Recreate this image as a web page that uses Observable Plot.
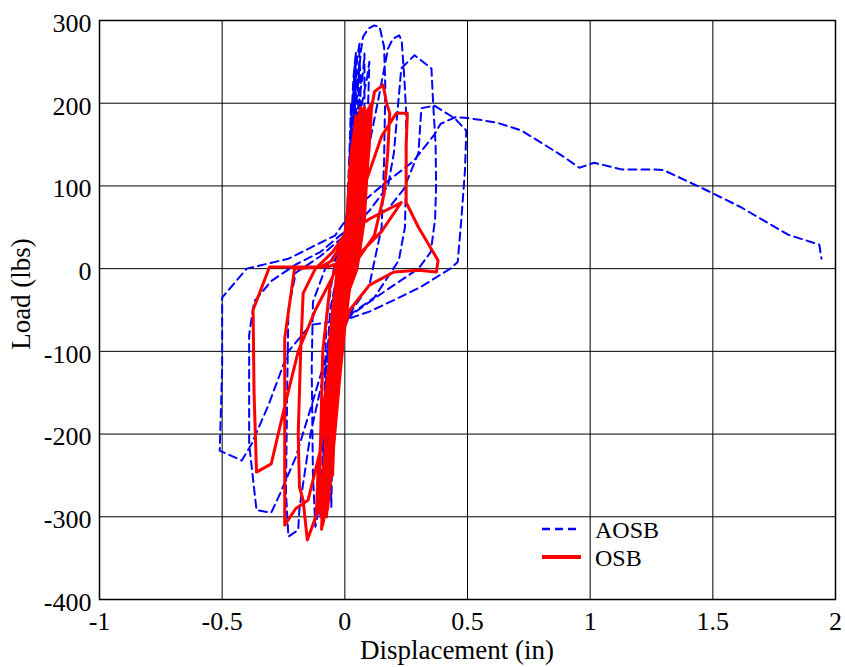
<!DOCTYPE html>
<html>
<head>
<meta charset="utf-8">
<script src="https://cdn.jsdelivr.net/npm/d3@7"></script>
<script src="https://cdn.jsdelivr.net/npm/@observablehq/plot@0.6"></script>
<style>
  html, body { margin: 0; padding: 0; background: #fff; }
  #chart { width: 845px; height: 667px; }
</style>
</head>
<body>
<div id="chart"></div>
<script>
// ---- Data (displacement in, load lbs) ----
const xTicks = [-1, -0.5, 0, 0.5, 1, 1.5, 2];
const yTicks = [-400, -300, -200, -100, 0, 100, 200, 300];
const seriesNames = ["AOSB", "OSB"];

// AOSB (blue dashed) hysteresis path, then monotonic tail
const aosbCurve = [
  [0,0],[0.02,150],[0.025,200],[0.02,120],[0.01,20],[-0.01,-40],[-0.04,-170],[-0.05,-215],[-0.045,-120],[-0.03,-20],[0,30],
  [0.02,120],[0.04,245],[0.035,160],[0.02,40],[0,-30],[-0.04,-150],[-0.07,-265],[-0.065,-160],[-0.05,-40],[-0.02,20],[0.01,60],
  [0.02,100],[0.04,200],[0.06,250],[0.065,230],[0.06,150],[0.04,60],[0.01,-20],[-0.02,-110],[-0.05,-220],[-0.07,-290],[-0.075,-300],[-0.07,-220],[-0.05,-100],[-0.02,0],[0.01,50],
  [0.03,150],[0.05,255],[0.06,272],[0.055,200],[0.045,90],[0.03,10],[0,-40],[-0.05,-150],[-0.08,-250],[-0.09,-285],[-0.085,-180],[-0.075,-60],[-0.04,10],[0,45],
  [0.04,160],[0.075,240],[0.08,260],[0.08,200],[0.07,120],[0.04,30],[0,-40],[-0.04,-140],[-0.08,-260],[-0.1,-300],[-0.095,-260],[-0.08,-150],[-0.06,-50],[-0.02,10],[0.02,70],
  [0.02,140],[0.035,230],[0.045,262],[0.04,180],[0.03,60],[0.01,-10],[-0.03,-120],[-0.06,-230],[-0.055,-288],[-0.05,-200],[-0.03,-60],[0,20],
  [0.05,170],[0.09,230],[0.1,250],[0.095,200],[0.08,100],[0.05,20],[0,-50],[-0.04,-160],[-0.07,-260],[-0.08,-296],[-0.07,-240],[-0.05,-120],[-0.02,-10],[0.01,40],
  [0.03,120],[0.05,210],[0.065,262],[0.074,280],[0.095,290],[0.12,294],[0.142,292],[0.16,268],[0.165,220],[0.16,130],[0.15,50],[0.1,-20],[0.03,-50],[-0.03,-90],[-0.07,-200],[-0.1,-280],[-0.12,-312],[-0.13,-250],[-0.135,-120],[-0.13,-40],[-0.08,0],[0,35],
  [0.05,80],[0.1,150],[0.14,210],[0.176,266],[0.196,278],[0.222,282],[0.232,275],[0.243,228],[0.25,188],[0.25,120],[0.245,50],[0.22,10],[0.12,-35],[0,-60],[-0.08,-120],[-0.14,-200],[-0.185,-290],[-0.19,-316],[-0.23,-324],[-0.24,-270],[-0.235,-150],[-0.23,-50],[-0.2,-5],[-0.1,15],[0,40],
  [0.1,70],[0.176,100],[0.2,140],[0.23,242],[0.284,258],[0.353,242],[0.36,200],[0.37,150],[0.372,100],[0.368,60],[0.35,20],[0.3,0],[0.15,-30],[0.03,-55],[-0.05,-80],[-0.12,-150],[-0.2,-228],[-0.27,-276],[-0.3,-295],[-0.36,-292],[-0.39,-212],[-0.39,-80],[-0.37,-40],[-0.3,-15],[-0.2,5],[-0.1,20],[0,45],
  [0.1,60],[0.176,72],[0.24,96],[0.3,140],[0.312,194],[0.365,197],[0.447,182],[0.495,167],[0.49,120],[0.475,60],[0.46,8],[0.43,0],[0.31,-22],[0.2,-38],[0.1,-52],[0,-62],[-0.14,-68],[-0.23,-100],[-0.31,-164],[-0.38,-212],[-0.42,-232],[-0.51,-220],[-0.5,-120],[-0.5,-35],[-0.4,0],[-0.23,12],[-0.04,40],[0.03,70],[0.15,100],[0.28,130],[0.365,162],[0.39,175],[0.45,183],
  [0.502,182],[0.549,180],[0.625,176],[0.72,167],[0.883,137],[0.956,122],[1.017,128],[1.127,120],[1.262,120],[1.3,119],[1.466,96],[1.616,74],[1.807,41],[1.934,29],[1.943,12]
];

// OSB (red solid) hysteresis path
const osbCurve = [
  [0,0],[0.01,60],[0.02,120],[0.03,150],[0.025,90],[0.01,20],[-0.01,-30],[-0.03,-120],[-0.05,-200],[-0.055,-230],[-0.05,-150],[-0.03,-40],[0,20],
  [0.02,100],[0.035,160],[0.045,175],[0.04,110],[0.02,30],[0,-20],[-0.03,-110],[-0.06,-240],[-0.065,-262],[-0.06,-180],[-0.04,-60],[-0.01,10],
  [0.01,50],[0.03,130],[0.05,175],[0.045,120],[0.03,40],[0,-30],[-0.02,-100],[-0.045,-200],[-0.07,-280],[-0.075,-300],[-0.065,-230],[-0.05,-120],[-0.03,-20],[0,30],
  [0.02,80],[0.04,150],[0.055,180],[0.06,190],[0.055,130],[0.035,50],[0.01,-10],[-0.03,-100],[-0.06,-200],[-0.08,-270],[-0.085,-285],[-0.075,-200],[-0.06,-80],[-0.03,0],[0,40],
  [0.02,90],[0.04,160],[0.065,195],[0.07,180],[0.06,100],[0.03,20],[0,-50],[-0.03,-150],[-0.06,-260],[-0.09,-310],[-0.095,-300],[-0.08,-230],[-0.06,-130],[-0.04,-30],[-0.01,20],
  [0.04,120],[0.06,170],[0.074,184],[0.1,190],[0.095,140],[0.08,60],[0.05,0],[0,-40],[-0.05,-130],[-0.08,-220],[-0.1,-285],[-0.105,-295],[-0.1,-220],[-0.09,-100],[-0.06,-20],[-0.02,20],[0.02,50],
  [0.03,110],[0.05,165],[0.08,195],[0.075,140],[0.06,70],[0.03,0],[0,-70],[-0.04,-180],[-0.07,-270],[-0.095,-315],[-0.085,-250],[-0.07,-150],[-0.05,-50],[-0.02,10],[0.01,60],
  [0.03,100],[0.06,160],[0.09,188],[0.085,130],[0.07,60],[0.04,10],[0,-50],[-0.03,-150],[-0.06,-250],[-0.08,-300],[-0.07,-250],[-0.05,-150],[-0.03,-40],[0,30],
  [0.03,140],[0.045,185],[0.04,130],[0.02,50],[0,-10],[-0.02,-90],[-0.04,-170],[-0.05,-250],[-0.045,-200],[-0.035,-100],[-0.015,-20],[0.01,40],
  [0.04,130],[0.07,180],[0.11,200],[0.1,150],[0.08,80],[0.05,20],[0.01,-40],[-0.02,-130],[-0.05,-230],[-0.07,-290],[-0.065,-220],[-0.04,-100],[-0.02,0],[0.02,50],
  [0.06,110],[0.1,180],[0.121,214],[0.156,222],[0.17,200],[0.183,188],[0.175,140],[0.16,90],[0.12,40],[0.05,10],[0,-20],[-0.05,-80],[-0.09,-180],[-0.11,-250],[-0.116,-298],[-0.153,-328],[-0.17,-280],[-0.185,-264],[-0.19,-200],[-0.18,-100],[-0.17,-30],[-0.12,0],[-0.05,20],[0.02,50],
  [0.08,100],[0.15,160],[0.21,188],[0.255,188],[0.25,150],[0.25,80],[0.3,50],[0.38,10],[0.373,-4],[0.3,-2],[0.2,-4],[0.1,-20],[0.02,-50],[-0.05,-120],[-0.1,-220],[-0.15,-280],[-0.2,-290],[-0.245,-310],[-0.245,-160],[-0.245,-84],[-0.205,0],[-0.1,2],[-0.05,10],[0,40],
  [0.1,60],[0.23,80],[0.15,45],[0.05,15],[-0.07,2],[-0.2,2],[-0.307,2],[-0.374,-50],[-0.37,-150],[-0.36,-246],[-0.3,-236],[-0.24,-160],[-0.19,-100],[-0.12,-50],[-0.05,-10],[0,30],[0.05,90],[0.08,170],[0.09,185],[0.06,120],[0.02,30]
];

const aosb = aosbCurve.map(([x, y]) => ({x, y}));
const osb = osbCurve.map(([x, y]) => ({x, y}));

const W = 845, H = 667;
const font = "'Liberation Serif', 'Times New Roman', serif";

const chart = Plot.plot({
  width: W,
  height: H,
  marginLeft: 99,
  marginRight: 10,
  marginTop: 20,
  marginBottom: 68,
  style: {fontFamily: font, fontSize: "26px", color: "#000", background: "#fff"},
  x: {domain: [-1, 2], label: null},
  y: {domain: [-400, 300], label: null},
  marks: [
    Plot.gridX(xTicks, {stroke: "#000", strokeOpacity: 1, strokeWidth: 1}),
    Plot.gridY(yTicks, {stroke: "#000", strokeOpacity: 1, strokeWidth: 1}),
    Plot.axisX(xTicks, {tickSize: 0, tickPadding: 12, tickFormat: d => String(d), fontSize: 26, label: null}),
    Plot.axisY(yTicks, {tickSize: 0, tickPadding: 8, tickFormat: d => String(d), fontSize: 26, dy: 3, label: null}),
    Plot.line(aosb, {x: "x", y: "y", stroke: "#0000ff", strokeWidth: 2, strokeDasharray: "8,5", curve: "linear"}),
    Plot.line(osb, {x: "x", y: "y", stroke: "#ff0000", strokeWidth: 3, curve: "linear"}),
    Plot.frame({stroke: "#000", strokeWidth: 1.5})
  ]
});

const svg = d3.select(chart);
svg.append("text")
  .attr("x", 457).attr("y", 653).attr("text-anchor", "middle").attr("dominant-baseline", "middle")
  .attr("font-family", font).attr("font-size", 27).attr("fill", "#000")
  .text("Displacement (in)");
svg.append("text")
  .attr("transform", "translate(24,294) rotate(-90)").attr("text-anchor", "middle").attr("dominant-baseline", "middle")
  .attr("font-family", font).attr("font-size", 27).attr("fill", "#000")
  .text("Load (lbs)");

// Legend
const leg = svg.append("g");
const legendStyles = [
  {stroke: "#0000ff", width: 2.5, dash: "8,5"},
  {stroke: "#ff0000", width: 4, dash: null}
];
seriesNames.forEach((name, i) => {
  const y = 529 + i * 28;
  const ln = leg.append("line").attr("x1", 542).attr("x2", 581).attr("y1", y).attr("y2", y)
    .attr("stroke", legendStyles[i].stroke).attr("stroke-width", legendStyles[i].width);
  if (legendStyles[i].dash) ln.attr("stroke-dasharray", legendStyles[i].dash);
  leg.append("text").attr("x", 595).attr("y", y + 3).attr("text-anchor", "start").attr("dominant-baseline", "middle")
    .attr("font-family", font).attr("font-size", 24).attr("fill", "#000").text(name);
});

document.getElementById("chart").appendChild(chart);
</script>
</body>
</html>
